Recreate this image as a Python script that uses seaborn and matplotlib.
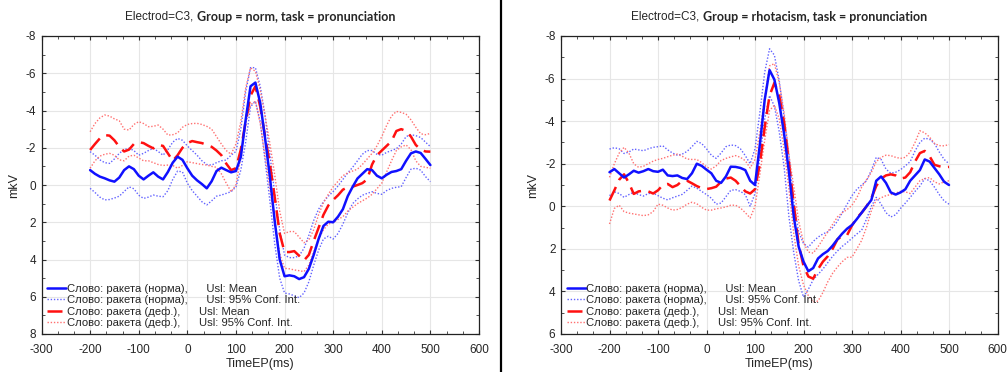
import numpy as np
import pandas as pd
import matplotlib
matplotlib.use("Agg")
import matplotlib.pyplot as plt
from matplotlib.ticker import AutoMinorLocator
from matplotlib.lines import Line2D
import seaborn as sns

# ---------------- data ----------------
time_ms = list(range(-200, 510, 10))

# Group = norm
norm_blue_mean = [-0.8, -0.6, -0.45, -0.36, -0.25, -0.18, -0.4, -0.8, -1.0, -0.85,
                  -0.5, -0.3, -0.5, -0.68, -0.45, -0.3, -0.7, -1.2, -1.52, -1.35,
                  -0.9, -0.5, -0.25, -0.05, 0.18, -0.2, -0.75, -0.93, -0.8, -0.68,
                  -0.75, -1.5, -3.5, -5.3, -5.5, -4.4, -2.5, -0.4, 2.0, 4.0,
                  4.9, 4.85, 4.9, 5.05, 4.95, 4.5, 3.75, 2.9, 2.2, 1.97,
                  2.0, 1.7, 1.3, 0.6, 0.1, -0.35, -0.6, -0.85, -0.8, -0.5,
                  -0.36, -0.55, -0.7, -0.75, -0.85, -1.3, -1.7, -1.8, -1.72, -1.4,
                  -1.07]
norm_blue_ci_up = [-1.79, -1.6, -1.35, -1.2, -1.16, -1.4, -1.7, -1.9, -1.97, -1.85,
                   -1.6, -1.7, -1.85, -1.97, -1.8, -1.6, -1.9, -2.3, -2.5, -2.4,
                   -2.1, -1.85, -1.6, -1.3, -1.1, -1.07, -1.2, -1.3, -1.34, -1.6,
                   -1.8, -3.0, -5.0, -6.3, -6.3, -5.3, -3.7, -1.6, 0.5, 2.4,
                   3.76, 3.9, 3.9, 3.8, 3.4, 2.7, 1.9, 1.3, 0.9, 0.6,
                   0.35, 0.05, -0.3, -0.65, -0.95, -1.3, -1.65, -1.85, -1.85, -1.65,
                   -1.6, -1.75, -1.85, -1.95, -2.2, -2.6, -2.7, -2.65, -2.55, -2.3,
                   -2.06]
norm_blue_ci_lo = [0.18, 0.4, 0.65, 0.8, 0.78, 0.7, 0.6, 0.35, 0.1, 0.2,
                   0.55, 0.72, 0.65, 0.54, 0.6, 0.63, 0.3, -0.3, -0.75, -0.7,
                   -0.1, 0.3, 0.6, 0.9, 1.07, 0.85, 0.6, 0.54, 0.45, 0.36,
                   0.1, -0.8, -2.3, -4.2, -4.5, -3.4, -1.3, 0.9, 3.2, 5.0,
                   5.8, 5.85, 5.95, 6.05, 5.8, 5.2, 4.3, 3.5, 2.9, 2.75,
                   2.9, 2.6, 2.1, 1.5, 1.0, 0.75, 0.55, 0.45, 0.36, 0.45,
                   0.5, 0.3, 0.18, 0.12, 0.09, -0.4, -0.85, -0.9, -0.8, -0.45,
                   -0.18]
norm_red_mean = [-1.88, -2.2, -2.5, -2.68, -2.65, -2.4, -2.05, -1.8, -1.9, -2.2,
                 -2.3, -2.25, -2.1, -1.97, -2.15, -2.1, -1.7, -1.3, -1.6, -2.0,
                 -2.25, -2.36, -2.3, -2.25, -2.15, -2.05, -1.85, -1.6, -1.15, -0.8,
                 -0.9, -1.9, -3.4, -4.8, -5.3, -4.2, -2.6, -1.1, 0.7, 2.6,
                 3.6, 3.6, 3.55, 3.8, 4.05, 3.75, 3.0, 2.3, 1.6, 1.1,
                 0.8, 0.55, 0.25, 0.12, 0.09, 0.0, -0.1, -0.3, -1.1, -1.6,
                 -1.85, -2.1, -2.35, -2.9, -3.0, -2.9, -2.6, -2.15, -1.9, -1.8,
                 -1.79]
norm_red_ci_up = [-2.86, -3.3, -3.6, -3.76, -3.7, -3.55, -3.45, -3.0, -2.95, -3.25,
                  -3.4, -3.3, -3.13, -3.15, -3.22, -3.0, -2.68, -2.7, -2.8, -3.1,
                  -3.25, -3.3, -3.31, -3.25, -3.15, -3.0, -2.6, -2.2, -1.85, -1.65,
                  -2.2, -3.4, -5.2, -6.3, -6.1, -5.1, -3.7, -2.2, -0.5, 1.4,
                  2.6, 2.5, 2.5, 2.8, 3.1, 2.95, 2.4, 1.6, 0.95, 0.5,
                  0.1, -0.2, -0.5, -0.65, -0.75, -0.85, -1.1, -1.4, -1.7, -2.1,
                  -2.6, -3.2, -3.7, -3.95, -3.9, -3.8, -3.5, -3.1, -2.75, -2.7,
                  -2.77]
norm_red_ci_lo = [-0.9, -1.3, -1.55, -1.65, -1.7, -1.6, -1.35, -1.3, -1.55, -1.6,
                  -1.45, -1.3, -1.3, -1.2, -1.1, -1.05, -1.07, -1.05, -0.9, -1.05,
                  -1.25, -1.2, -1.15, -1.1, -1.07, -1.0, -0.95, -0.6, -0.1, 0.36,
                  0.0, -1.5, -3.3, -4.3, -4.5, -3.3, -1.5, 0.2, 2.0, 3.7,
                  4.47, 4.5, 4.56, 4.6, 4.65, 4.3, 3.6, 2.9, 2.4, 2.1,
                  2.0, 1.85, 1.7, 1.4, 1.2, 1.0, 0.85, 0.7, 0.5, 0.2,
                  -0.1, -0.7, -1.3, -1.85, -2.05, -2.15, -1.9, -1.3, -1.0, -0.95,
                  -0.9]

# Group = rhotacism
rhot_blue_mean = [-1.6, -1.75, -1.55, -1.35, -1.5, -1.67, -1.58, -1.65, -1.75, -1.65,
                  -1.62, -1.72, -1.45, -1.42, -1.45, -1.33, -1.28, -1.55, -2.0, -1.9,
                  -1.72, -1.55, -1.2, -1.1, -1.4, -1.86, -1.85, -1.8, -1.7, -1.2,
                  -1.0, -2.9, -5.0, -6.4, -5.95, -4.85, -3.4, -1.6, 0.5, 1.9,
                  2.6, 3.05, 2.9, 2.45, 2.25, 2.1, 1.85, 1.55, 1.28, 1.05,
                  0.88, 0.6, 0.3, 0.0, -0.3, -1.2, -1.4, -1.1, -0.65, -0.55,
                  -0.65, -0.8, -1.2, -1.45, -1.7, -2.2, -2.1, -1.8, -1.5, -1.15,
                  -1.0]
rhot_blue_ci_up = [-2.69, -2.75, -2.7, -2.48, -2.55, -2.69, -2.65, -2.61, -2.7, -2.77,
                   -2.8, -2.84, -2.65, -2.5, -2.4, -2.45, -2.58, -2.8, -3.05, -2.95,
                   -2.7, -2.4, -2.25, -2.5, -2.8, -2.88, -2.85, -2.7, -2.38, -2.0,
                   -2.7, -4.4, -6.3, -7.4, -7.1, -5.9, -4.2, -2.4, -0.2, 1.2,
                   1.75, 1.92, 1.65, 1.45, 1.3, 1.2, 1.0, 0.7, 0.3, -0.1,
                   -0.5, -0.8, -1.0, -1.2, -1.7, -2.3, -2.2, -1.75, -1.55, -1.6,
                   -1.72, -1.9, -2.1, -2.6, -3.0, -3.2, -3.15, -2.95, -2.55, -2.2,
                   -2.0]
rhot_blue_ci_lo = [-0.5, -0.68, -0.6, -0.42, -0.55, -0.66, -0.55, -0.48, -0.6, -0.62,
                   -0.5, -0.38, -0.3, -0.4, -0.48, -0.56, -0.75, -0.95, -0.85, -0.7,
                   -0.55, -0.38, -0.1, -0.15, -0.45, -0.75, -0.78, -0.7, -0.55, 0.0,
                   -0.6, -2.3, -4.1, -5.2, -4.7, -3.5, -1.85, 0.5, 2.2, 3.5,
                   4.27, 3.9, 3.45, 3.2, 2.95, 2.65, 2.35, 2.1, 1.88, 1.7,
                   1.5, 1.3, 1.12, 0.6, 0.0, -0.42, -0.1, 0.3, 0.5, 0.4,
                   0.1, -0.15, -0.42, -0.7, -0.95, -1.3, -1.2, -0.9, -0.55, -0.25,
                   -0.1]
rhot_red_mean = [-0.27, -0.75, -1.25, -1.5, -1.1, -0.58, -0.7, -0.73, -0.7, -0.6,
                 -0.75, -1.0, -1.05, -0.9, -1.0, -1.2, -1.2, -1.08, -0.95, -0.85,
                 -0.81, -0.85, -0.92, -1.15, -1.3, -1.35, -1.2, -0.95, -0.7, -0.6,
                 -0.8, -2.0, -3.7, -5.2, -5.8, -5.2, -3.9, -2.0, -0.1, 1.8,
                 2.8, 3.3, 3.4, 2.95, 2.6, 2.35, 2.0, 1.55, 1.4, 1.35,
                 0.9, 0.55, 0.3, 0.0, -0.38, -0.95, -1.3, -1.45, -1.5, -1.45,
                 -1.3, -1.35, -1.6, -2.1, -2.5, -2.6, -2.35, -1.95, -1.88, -1.83,
                 -1.85]
rhot_red_ci_up = [-1.36, -2.0, -2.5, -2.77, -2.5, -2.0, -1.83, -1.88, -2.0, -2.12,
                  -2.2, -2.25, -2.33, -2.4, -2.45, -2.35, -2.22, -2.2, -2.2, -2.05,
                  -1.85, -1.75, -1.9, -2.15, -2.25, -2.32, -2.38, -2.3, -2.14, -1.8,
                  -2.2, -3.5, -5.1, -6.6, -6.7, -5.8, -4.4, -2.4, -0.9, 0.7,
                  1.7, 2.15, 2.2, 1.9, 1.55, 1.2, 0.85, 0.5, 0.3, 0.15,
                  -0.05, -0.4, -0.9, -1.25, -1.6, -2.1, -2.3, -2.4, -2.38, -2.3,
                  -2.25, -2.3, -2.55, -3.0, -3.55, -3.45, -3.25, -2.95, -2.85, -2.84,
                  -2.9]
rhot_red_ci_lo = [0.83, 0.1, -0.05, 0.25, 0.32, 0.36, 0.4, 0.44, 0.4, 0.25,
                  -0.1, -0.05, 0.08, 0.18, 0.15, 0.05, -0.1, -0.19, -0.12, 0.05,
                  0.18, 0.18, 0.12, 0.08, 0.03, -0.05, -0.05, 0.08, 0.3, 0.55,
                  0.0, -1.5, -3.1, -4.5, -4.75, -4.1, -2.7, -0.8, 1.3, 2.8,
                  3.7, 4.2, 4.5, 4.45, 4.05, 3.55, 3.15, 2.85, 2.6, 2.4,
                  2.39, 2.0, 1.6, 0.98, 0.2, -0.3, -0.4, -0.5, -0.55, -0.62,
                  -0.7, -0.68, -0.6, -0.9, -1.2, -1.3, -1.35, -1.15, -1.05, -1.15,
                  -1.2]

legend_labels = [
    "Слово: ракета (норма),      Usl: Mean",
    "Слово: ракета (норма),      Usl: 95% Conf. Int.",
    "Слово: ракета (деф.),      Usl: Mean",
    "Слово: ракета (деф.),      Usl: 95% Conf. Int.",
]
groups = ["norm", "rhotacism"]
x_ticks = [-300, -200, -100, 0, 100, 200, 300, 400, 500, 600]

# ---------------- style ----------------
sns.set_style("white")
plt.rcParams["font.family"] = ["Liberation Sans", "DejaVu Sans"]
plt.rcParams["axes.unicode_minus"] = False

BLUE = "#1010ff"
BLUE_CI = "#6262ff"
RED = "#ff1010"
RED_CI = "#ff7070"

fig = plt.figure(figsize=(10.08, 3.72), dpi=100)
W, H = 1008, 372
ax_l = fig.add_axes([41.5 / W, 1 - 334 / H, 437.5 / W, 298 / H])
ax_r = fig.add_axes([561 / W, 1 - 334 / H, 436.5 / W, 298 / H])

panels = [
    (ax_l, groups[0], norm_blue_mean, norm_blue_ci_up, norm_blue_ci_lo,
     norm_red_mean, norm_red_ci_up, norm_red_ci_lo, (8, -8)),
    (ax_r, groups[1], rhot_blue_mean, rhot_blue_ci_up, rhot_blue_ci_lo,
     rhot_red_mean, rhot_red_ci_up, rhot_red_ci_lo, (6, -8)),
]

DOT = (0, (1, 1.3))
DASH = (0, (6, 3))

titles = []
for (ax, grp, bm, bu, bl, rm, ru, rl, ylim) in panels:
    ax.set_axisbelow(True)
    ax.grid(True, color="#e6e6e6", lw=0.8)
    t = np.array(time_ms)
    sns.lineplot(x=t, y=bu, ax=ax, color=BLUE_CI, lw=1.0, linestyle=DOT)
    sns.lineplot(x=t, y=bl, ax=ax, color=BLUE_CI, lw=1.0, linestyle=DOT)
    sns.lineplot(x=t, y=ru, ax=ax, color=RED_CI, lw=1.0, linestyle=DOT)
    sns.lineplot(x=t, y=rl, ax=ax, color=RED_CI, lw=1.0, linestyle=DOT)
    sns.lineplot(x=t, y=rm, ax=ax, color=RED, lw=1.8, linestyle=DASH)
    sns.lineplot(x=t, y=bm, ax=ax, color=BLUE, lw=1.8)

    ax.set_xlim(-300, 600)
    ax.set_ylim(*ylim)
    ax.set_xticks(x_ticks)
    ax.set_xticklabels([str(v) for v in x_ticks])
    yt = list(range(ylim[1], ylim[0] + 1, 2))
    ax.set_yticks(yt)
    ax.set_yticklabels([str(v) for v in yt])
    ax.xaxis.set_minor_locator(AutoMinorLocator(3))
    ax.yaxis.set_minor_locator(AutoMinorLocator(2))
    ax.tick_params(which="both", direction="in", top=True, right=True,
                   bottom=True, left=True, labelsize=8.5, color="#333333")
    ax.tick_params(axis="x", which="major", pad=7)
    ax.tick_params(axis="y", which="major", pad=4)
    ax.tick_params(which="major", length=3)
    ax.tick_params(which="minor", length=2)
    for s in ax.spines.values():
        s.set_color("#222222")
        s.set_linewidth(0.9)
    ax.set_xlabel("TimeEP(ms)", fontsize=9, labelpad=2)
    ax.set_ylabel("mkV", fontsize=9, labelpad=4)

    handles = [
        Line2D([], [], color=BLUE, lw=1.8),
        Line2D([], [], color=BLUE_CI, lw=1.0, linestyle=DOT),
        Line2D([], [], color=RED, lw=1.8, linestyle=DASH),
        Line2D([], [], color=RED_CI, lw=1.0, linestyle=DOT),
    ]
    ax.legend(handles, legend_labels, loc="lower left", frameon=False,
              fontsize=8.1, handlelength=1.7, handletextpad=0.05,
              labelspacing=0.1, borderaxespad=0.35, borderpad=0.15)

    t1 = ax.text(0.5, 1.055, "Electrod=C3, ", transform=ax.transAxes,
                 fontsize=8.5, ha="left", va="baseline")
    t2 = ax.annotate(f"Group = {grp}, task = pronunciation", xy=(1, 0),
                     xycoords=t1, fontsize=9, fontweight="bold",
                     family=["Lato", "DejaVu Sans"], ha="left", va="bottom")
    titles.append((ax, t1, t2))

# center the two-part titles over each axes
fig.canvas.draw()
r = fig.canvas.get_renderer()
for ax, t1, t2 in titles:
    b1 = t1.get_window_extent(r)
    b2 = t2.get_window_extent(r)
    total = b2.x1 - b1.x0
    axb = ax.get_window_extent(r)
    cx = (axb.x0 + axb.x1) / 2
    x0 = cx - total / 2
    t1.set_x((x0 - axb.x0) / axb.width)

# separator line between panels
fig.add_artist(Line2D([501 / W, 501 / W], [0, 1], transform=fig.transFigure,
                      color="black", lw=1.6))

fig.savefig("out.png", dpi=100, facecolor="white")
